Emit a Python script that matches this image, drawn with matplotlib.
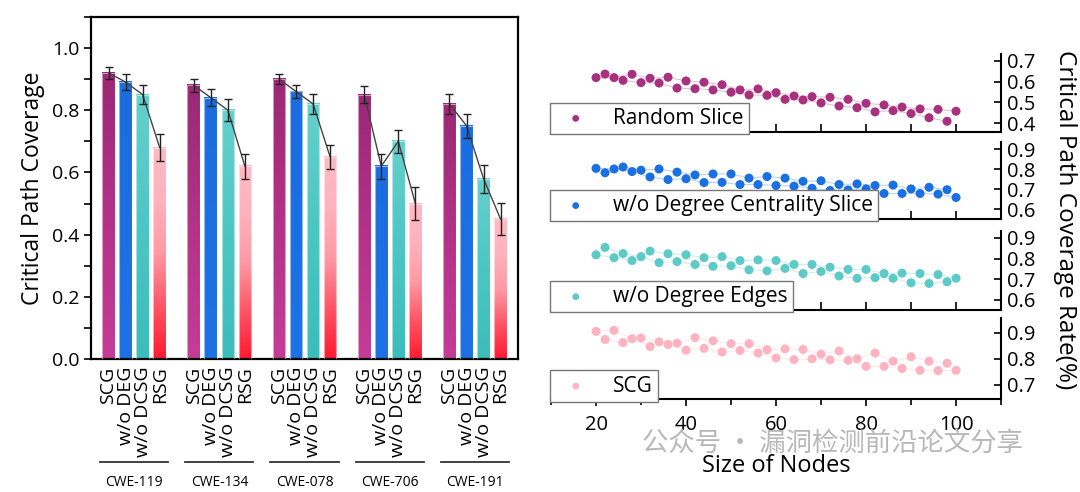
import numpy as np
import matplotlib
matplotlib.use("Agg")
import matplotlib.pyplot as plt
from matplotlib.colors import LinearSegmentedColormap
from matplotlib.ticker import MultipleLocator

plt.rcParams['font.family'] = ['Open Sans', 'DejaVu Sans']

# ---- left chart data ----
groups = ["CWE-119", "CWE-134", "CWE-078", "CWE-706", "CWE-191"]
methods = ["SCG", "w/o DEG", "w/o DCSG", "RSG"]
scg_vals = [0.92, 0.88, 0.90, 0.85, 0.82]
deg_vals = [0.89, 0.84, 0.86, 0.62, 0.75]
dcsg_vals = [0.85, 0.80, 0.82, 0.70, 0.58]
rsg_vals = [0.68, 0.62, 0.65, 0.50, 0.45]
scg_err = [0.020, 0.021, 0.017, 0.026, 0.032]
deg_err = [0.025, 0.028, 0.022, 0.040, 0.038]
dcsg_err = [0.030, 0.036, 0.032, 0.036, 0.045]
rsg_err = [0.042, 0.040, 0.039, 0.053, 0.051]

# ---- right chart data ----
node_sizes = list(range(20, 101, 2))
random_slice = [0.619, 0.636, 0.619, 0.606, 0.635, 0.595, 0.616, 0.593, 0.621, 0.569,
                0.603, 0.566, 0.597, 0.560, 0.585, 0.549, 0.560, 0.536, 0.565, 0.534,
                0.547, 0.515, 0.531, 0.512, 0.528, 0.498, 0.525, 0.483, 0.515, 0.475,
                0.496, 0.455, 0.488, 0.461, 0.478, 0.447, 0.469, 0.427, 0.467, 0.410, 0.458]
wo_centrality = [0.804, 0.782, 0.801, 0.811, 0.788, 0.795, 0.761, 0.801, 0.748, 0.785,
                 0.752, 0.771, 0.733, 0.776, 0.734, 0.776, 0.723, 0.755, 0.723, 0.763,
                 0.718, 0.755, 0.715, 0.739, 0.704, 0.742, 0.693, 0.723, 0.696, 0.726,
                 0.701, 0.718, 0.678, 0.720, 0.678, 0.701, 0.678, 0.709, 0.675, 0.697, 0.658]
wo_edges = [0.818, 0.854, 0.804, 0.824, 0.790, 0.809, 0.836, 0.780, 0.823, 0.785,
            0.818, 0.771, 0.804, 0.762, 0.809, 0.765, 0.790, 0.745, 0.793, 0.740,
            0.790, 0.752, 0.771, 0.727, 0.771, 0.737, 0.758, 0.715, 0.747, 0.704,
            0.747, 0.707, 0.727, 0.704, 0.729, 0.682, 0.727, 0.679, 0.722, 0.687, 0.704]
scg_curve = [0.905, 0.874, 0.909, 0.862, 0.877, 0.880, 0.847, 0.865, 0.855, 0.860,
             0.833, 0.881, 0.840, 0.869, 0.826, 0.858, 0.832, 0.858, 0.822, 0.835,
             0.803, 0.838, 0.797, 0.836, 0.800, 0.818, 0.796, 0.830, 0.794, 0.800,
             0.771, 0.822, 0.771, 0.791, 0.763, 0.808, 0.756, 0.791, 0.755, 0.783, 0.756]

fig = plt.figure(figsize=(10.8, 4.92), dpi=100)

# ================= left: grouped bars =================
ax = fig.add_axes([0.0847, 0.2697, 0.3946, 0.6963])

series = [scg_vals, deg_vals, dcsg_vals, rsg_vals]
errors = [scg_err, deg_err, dcsg_err, rsg_err]
# colour stops from bottom (0) to top (1) for each method
bar_cmaps = [
    LinearSegmentedColormap.from_list("scg", ["#c43c97", "#b23287", "#9b2875"]),
    LinearSegmentedColormap.from_list("deg", ["#1e72e4", "#1b6ddf"]),
    LinearSegmentedColormap.from_list("dcsg", ["#3bbdba", "#4cc6c3", "#66d0cd"]),
    LinearSegmentedColormap.from_list(
        "rsg", [(0.0, "#ff1a30"), (0.25, "#ff5566"), (0.5, "#ff9aa6"),
                (0.75, "#ffb2bd"), (1.0, "#ffbac4")]),
]
bar_w = 0.74
grad = np.linspace(0, 1, 256).reshape(-1, 1)

for g in range(len(groups)):
    xs = []
    ys = []
    for i in range(4):
        x = g * 5 + i
        h = series[i][g]
        ax.imshow(grad, cmap=bar_cmaps[i], origin="lower", aspect="auto",
                  extent=(x - bar_w / 2, x + bar_w / 2, 0, h), zorder=2)
        ax.bar(x, h, width=bar_w, facecolor="none", edgecolor=(1, 1, 1, 0.5),
               linewidth=0.8, zorder=3)
        ax.errorbar(x, h, yerr=errors[i][g], fmt="none", ecolor="#222222",
                    elinewidth=1.0, capsize=3, capthick=1.0, zorder=5)
        xs.append(x)
        ys.append(h)
    ax.plot(xs, ys, color="#444444", lw=1.0, zorder=4)

ax.set_xlim(-1, 24)
ax.set_ylim(0, 1.1)
ax.yaxis.set_minor_locator(MultipleLocator(0.1))
ax.set_yticks([0.0, 0.2, 0.4, 0.6, 0.8, 1.0])
ax.set_yticklabels(["0.0", "0.2", "0.4", "0.6", "0.8", "1.0"])
ax.tick_params(axis="y", which="both", direction="out", length=5, width=1.2,
               labelsize=14)
ax.set_ylabel("Critical Path Coverage", fontsize=16.5, labelpad=5)

tick_pos = [g * 5 + i for g in range(len(groups)) for i in range(4)]
tick_lab = methods * len(groups)
ax.set_xticks(tick_pos)
ax.set_xticklabels(tick_lab, rotation=90, fontsize=14)
ax.tick_params(axis="x", length=0, pad=5)
for s in ax.spines.values():
    s.set_linewidth(1.6)

trans = ax.get_xaxis_transform()
for g, name in enumerate(groups):
    ax.plot([g * 5 - 0.5, g * 5 + 3.5], [-0.30, -0.30], color="#333333", lw=1.3,
            transform=trans, clip_on=False)
    ax.text(g * 5 + 1.5, -0.36, name, transform=trans, ha="center", va="center",
            fontsize=10)

# ================= right: stacked scatter panels =================
panels = [
    ([0.5102, 0.7323, 0.4167, 0.1579], random_slice, "#a8307e", "Random Slice",
     (0.36, 0.732), [0.4, 0.5, 0.6, 0.7]),
    ([0.5102, 0.5549, 0.4167, 0.1559], wo_centrality, "#1a6fe2",
     "w/o Degree Centrality Slice", (0.55, 0.935), [0.6, 0.7, 0.8, 0.9]),
    ([0.5102, 0.3699, 0.4167, 0.1612], wo_edges, "#5ccac6", "w/o Degree Edges",
     (0.55, 0.935), [0.6, 0.7, 0.8, 0.9]),
    ([0.5102, 0.1884, 0.4167, 0.1646], scg_curve, "#ffb3c0", "SCG",
     (0.645, 0.955), [0.7, 0.8, 0.9]),
]

for k, (rect, vals, col, lab, ylim, yt) in enumerate(panels):
    axr = fig.add_axes(rect)
    xs = np.array(node_sizes)
    vs = np.array(vals)
    axr.plot(xs[0::2], vs[0::2], color=col, lw=0.8, alpha=0.3, zorder=1)
    axr.plot(xs[1::2], vs[1::2], color=col, lw=0.8, alpha=0.3, zorder=1)
    axr.scatter(xs, vs, s=42, color=col, edgecolors="none", zorder=3, label=lab)
    axr.set_xlim(10, 110)
    axr.set_ylim(*ylim)
    axr.set_yticks(yt)
    axr.set_yticklabels([f"{t:.1f}" for t in yt])
    axr.yaxis.tick_right()
    axr.tick_params(axis="y", direction="in", length=5, width=1.2, labelsize=14.5,
                    pad=4)
    axr.spines["left"].set_visible(False)
    axr.spines["top"].set_visible(False)
    axr.spines["bottom"].set_linewidth(1.5)
    axr.spines["right"].set_linewidth(1.5)
    axr.xaxis.set_major_locator(MultipleLocator(20))
    axr.xaxis.set_minor_locator(MultipleLocator(10))
    if k < 3:
        axr.tick_params(axis="x", which="both", direction="in", length=6,
                        width=1.2, labelbottom=False)
    else:
        axr.tick_params(axis="x", which="major", direction="out", length=5,
                        width=1.2, labelsize=14.5, pad=6)
        axr.tick_params(axis="x", which="minor", direction="out", length=4,
                        width=1.2)
        axr.set_xlabel("Size of Nodes", fontsize=17, labelpad=14)
    leg = axr.legend(loc="lower left", bbox_to_anchor=(-0.003, -0.03),
                     borderaxespad=0, fontsize=15, frameon=True, fancybox=False,
                     handlelength=2.0, handletextpad=0.8, borderpad=0.25,
                     markerscale=0.75)
    leg.get_frame().set_edgecolor("#777777")
    leg.get_frame().set_linewidth(1.0)
    leg.get_frame().set_alpha(1.0)

fig.text(1065 / 1080, 1 - 220 / 492, "Critical Path Coverage Rate(%)",
         rotation=270, ha="center", va="center", fontsize=17.5)

# watermark text overlay
fig.text(832 / 1080, 1 - 444 / 492, "公众号 · 漏洞检测前沿论文分享",
         ha="center", va="center", fontsize=19, color="#b8b8b8",
         family=["Noto Sans CJK SC", "DejaVu Sans"], zorder=10)

fig.savefig("out.png", dpi=100)
